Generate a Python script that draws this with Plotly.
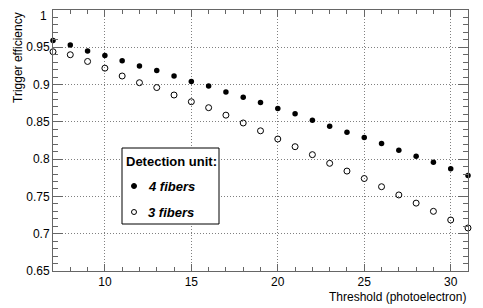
import plotly.graph_objects as go

thresholds = list(range(7, 32))
eff_4fibers = [0.959, 0.953, 0.945, 0.939, 0.932, 0.925, 0.919, 0.9115, 0.904, 0.898,
               0.890, 0.883, 0.876, 0.868, 0.861, 0.852, 0.844, 0.836, 0.829, 0.821,
               0.812, 0.804, 0.796, 0.787, 0.778]
eff_3fibers = [0.944, 0.940, 0.931, 0.922, 0.9115, 0.9025, 0.896, 0.886, 0.877, 0.869,
               0.859, 0.8485, 0.838, 0.827, 0.8167, 0.806, 0.7944, 0.784, 0.774, 0.763,
               0.752, 0.741, 0.730, 0.7184, 0.7077]

y_tick_vals = [0.65, 0.7, 0.75, 0.8, 0.85, 0.9, 0.95, 1.0]
y_tick_text = ["0.65", "0.7", "0.75", "0.8", "0.85", "0.9", "0.95", "1"]

legend_title = "Detection unit:"
legend_labels = ["4 fibers", "3 fibers"]

FONT = "Liberation Sans, Arial, Helvetica, sans-serif"
AX = "#666666"
GRID = "#808080"

fig = go.Figure()
fig.add_trace(go.Scatter(x=thresholds, y=eff_4fibers, mode="markers", name=legend_labels[0],
                         marker=dict(symbol="circle", size=5.5, color="black"),
                         cliponaxis=False, showlegend=False))
fig.add_trace(go.Scatter(x=thresholds, y=eff_3fibers, mode="markers", name=legend_labels[1],
                         marker=dict(symbol="circle-open", size=6, color="black", line=dict(width=1)),
                         cliponaxis=False, showlegend=False))

# page is offset by the default 8px body margin
OFF = 8
PW, PH = 483, 308
PL, PT, PR, PB = 53, 10, 468, 271
W, H = PW - OFF, PH - OFF

def px(xpix):
    return (xpix - PL) / (PR - PL)

def py(ypix):
    return (PB - ypix) / (PB - PT)

shapes = [
    dict(type="rect", xref="paper", yref="paper", x0=px(122), x1=px(219), y0=py(224), y1=py(148),
         line=dict(color="black", width=1), fillcolor="white", layer="above"),
    dict(type="circle", xref="paper", yref="paper", x0=px(131.5), x1=px(136.5), y0=py(188.5), y1=py(183.5),
         line=dict(color="black", width=1), fillcolor="black", layer="above"),
    dict(type="circle", xref="paper", yref="paper", x0=px(131.5), x1=px(136.5), y0=py(214.5), y1=py(209.5),
         line=dict(color="black", width=1), fillcolor="white", layer="above"),
]

annotations = [
    dict(text="<b>" + legend_title + "</b>", xref="paper", yref="paper", x=px(124), y=py(161),
         xanchor="left", yanchor="middle", showarrow=False, font=dict(family=FONT, size=13, color="black")),
    dict(text="<b><i>" + legend_labels[0] + "</i></b>", xref="paper", yref="paper", x=px(146), y=py(186),
         xanchor="left", yanchor="middle", showarrow=False, font=dict(family=FONT, size=13, color="black")),
    dict(text="<b><i>" + legend_labels[1] + "</i></b>", xref="paper", yref="paper", x=px(146), y=py(212),
         xanchor="left", yanchor="middle", showarrow=False, font=dict(family=FONT, size=13, color="black")),
    dict(text="Trigger efficiency", xref="paper", yref="paper", x=px(8.5), y=1.0, textangle=-90,
         xanchor="left", yanchor="top", showarrow=False, font=dict(family=FONT, size=12, color="black")),
    dict(text="Threshold (photoelectron)", xref="paper", yref="paper", x=1.0, y=py(297),
         xanchor="right", yanchor="middle", showarrow=False, font=dict(family=FONT, size=12, color="black")),
    # top tick label, kept inside the page
    dict(text=y_tick_text[-1], xref="paper", yref="paper", x=px(48), y=py(8), borderpad=0,
         xanchor="right", yanchor="top", showarrow=False, font=dict(family=FONT, size=12, color="black")),
]

fig.update_layout(
    width=W, height=H,
    margin=dict(l=PL - OFF, r=PW - PR, t=PT - OFF, b=PH - PB, pad=0, autoexpand=False),
    paper_bgcolor="white", plot_bgcolor="white",
    font=dict(family=FONT, size=12, color="black"),
    shapes=shapes, annotations=annotations,
    showlegend=False,
)
fig.update_xaxes(
    range=[7, 31], tick0=0, dtick=5, ticks="inside", ticklen=7, tickcolor=AX, tickwidth=1,
    showline=True, linecolor=AX, linewidth=1, mirror="allticks", automargin=False,
    showgrid=True, gridcolor=GRID, griddash="1px,2px", gridwidth=1, zeroline=False,
    minor=dict(dtick=1, ticks="inside", ticklen=4, tickcolor=AX, showgrid=False),
    tickfont=dict(family=FONT, size=12, color="black"),
)
fig.update_yaxes(
    range=[0.65, 1.0], tickmode="array", tickvals=y_tick_vals,
    ticktext=y_tick_text[:-1] + [""],
    ticks="inside", ticklen=10, tickcolor=AX, tickwidth=1,
    showline=True, linecolor=AX, linewidth=1, mirror="allticks", automargin=False,
    showgrid=True, gridcolor=GRID, griddash="1px,2px", gridwidth=1, zeroline=False,
    minor=dict(tick0=0, dtick=0.01, ticks="inside", ticklen=5, tickcolor=AX, showgrid=False),
    tickfont=dict(family=FONT, size=12, color="black"),
)

fig.write_html("out.html")
